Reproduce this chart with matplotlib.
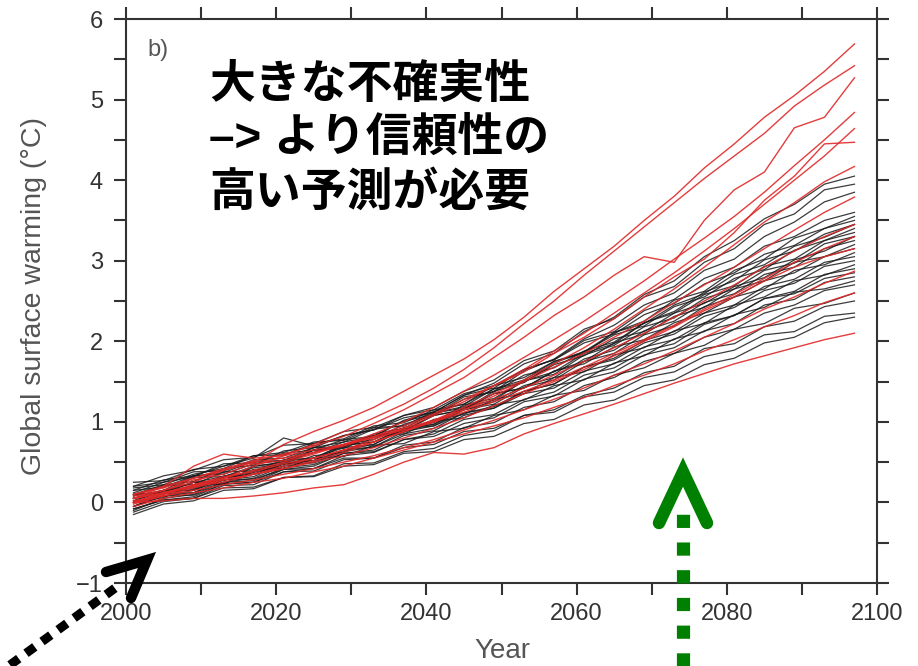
import matplotlib
matplotlib.use("Agg")
import matplotlib.pyplot as plt
from matplotlib.lines import Line2D
from matplotlib.ticker import MultipleLocator

# ---- data ----
years = [2001, 2005, 2009, 2013, 2017, 2021, 2025, 2029, 2033, 2037, 2041, 2045, 2049,
         2053, 2057, 2061, 2065, 2069, 2073, 2077, 2081, 2085, 2089, 2093, 2097]

# multi-model ensemble (black)
black_runs = [
    [0.02, 0.14, 0.25, 0.22, 0.45, 0.50, 0.62, 0.75, 0.82, 1.02, 1.12, 1.33, 1.48, 1.72, 1.85, 2.12, 2.30, 2.58, 2.75, 3.05, 3.25, 3.52, 3.70, 3.95, 4.05],
    [0.10, 0.22, 0.26, 0.42, 0.46, 0.64, 0.68, 0.83, 0.90, 1.08, 1.18, 1.38, 1.52, 1.76, 1.88, 2.15, 2.28, 2.55, 2.68, 2.98, 3.15, 3.45, 3.58, 3.88, 3.95],
    [-0.05, 0.08, 0.15, 0.30, 0.38, 0.48, 0.55, 0.72, 0.78, 0.97, 1.08, 1.28, 1.38, 1.63, 1.78, 2.03, 2.20, 2.45, 2.60, 2.88, 3.02, 3.30, 3.48, 3.73, 3.85],
    [0.15, 0.28, 0.33, 0.45, 0.55, 0.80, 0.70, 0.83, 0.90, 1.05, 1.12, 1.33, 1.42, 1.65, 1.77, 2.01, 2.12, 2.38, 2.52, 2.78, 2.92, 3.18, 3.30, 3.50, 3.60],
    [0.00, 0.06, 0.22, 0.23, 0.38, 0.45, 0.58, 0.62, 0.81, 0.89, 1.08, 1.15, 1.38, 1.49, 1.73, 1.87, 2.11, 2.25, 2.51, 2.62, 2.88, 3.02, 3.28, 3.40, 3.55],
    [0.20, 0.33, 0.40, 0.53, 0.56, 0.71, 0.73, 0.88, 0.93, 1.08, 1.15, 1.35, 1.45, 1.65, 1.77, 1.98, 2.09, 2.33, 2.47, 2.71, 2.85, 3.08, 3.19, 3.40, 3.50],
    [0.05, 0.12, 0.25, 0.32, 0.43, 0.47, 0.65, 0.69, 0.85, 0.92, 1.11, 1.19, 1.41, 1.52, 1.75, 1.85, 2.11, 2.22, 2.45, 2.59, 2.83, 2.95, 3.18, 3.29, 3.45],
    [-0.10, 0.05, 0.10, 0.25, 0.30, 0.45, 0.50, 0.65, 0.72, 0.91, 0.97, 1.18, 1.27, 1.51, 1.62, 1.85, 1.97, 2.23, 2.37, 2.61, 2.75, 3.01, 3.12, 3.33, 3.45],
    [0.08, 0.15, 0.33, 0.35, 0.48, 0.52, 0.68, 0.75, 0.91, 0.95, 1.13, 1.22, 1.45, 1.55, 1.75, 1.87, 2.08, 2.19, 2.43, 2.55, 2.78, 2.89, 3.13, 3.25, 3.40],
    [0.12, 0.25, 0.32, 0.48, 0.49, 0.61, 0.65, 0.78, 0.82, 1.01, 1.09, 1.31, 1.37, 1.58, 1.67, 1.88, 1.99, 2.23, 2.35, 2.58, 2.69, 2.93, 3.02, 3.25, 3.35],
    [0.00, 0.12, 0.16, 0.31, 0.35, 0.48, 0.52, 0.71, 0.75, 0.93, 0.99, 1.21, 1.29, 1.51, 1.59, 1.83, 1.95, 2.18, 2.29, 2.53, 2.65, 2.88, 2.97, 3.21, 3.30],
    [0.18, 0.22, 0.35, 0.42, 0.58, 0.59, 0.73, 0.79, 0.95, 0.99, 1.15, 1.22, 1.41, 1.49, 1.71, 1.82, 2.03, 2.12, 2.35, 2.47, 2.68, 2.79, 3.01, 3.12, 3.30],
    [-0.05, 0.11, 0.12, 0.28, 0.32, 0.48, 0.49, 0.63, 0.69, 0.88, 0.95, 1.15, 1.25, 1.45, 1.55, 1.78, 1.89, 2.13, 2.25, 2.48, 2.59, 2.83, 2.92, 3.15, 3.25],
    [0.10, 0.12, 0.31, 0.32, 0.45, 0.49, 0.65, 0.67, 0.83, 0.89, 1.08, 1.15, 1.35, 1.42, 1.63, 1.75, 1.98, 2.09, 2.31, 2.42, 2.65, 2.75, 2.98, 3.05, 3.20],
    [0.05, 0.15, 0.17, 0.33, 0.37, 0.51, 0.55, 0.68, 0.72, 0.91, 0.97, 1.15, 1.22, 1.43, 1.52, 1.75, 1.85, 2.08, 2.19, 2.43, 2.55, 2.75, 2.85, 3.05, 3.15],
    [0.25, 0.27, 0.41, 0.45, 0.58, 0.62, 0.75, 0.77, 0.93, 0.95, 1.11, 1.17, 1.35, 1.42, 1.63, 1.72, 1.93, 2.02, 2.23, 2.35, 2.55, 2.65, 2.88, 2.95, 3.10],
    [-0.08, 0.03, 0.07, 0.23, 0.25, 0.41, 0.45, 0.61, 0.65, 0.83, 0.89, 1.08, 1.17, 1.38, 1.47, 1.68, 1.79, 2.01, 2.12, 2.35, 2.45, 2.68, 2.77, 2.98, 3.05],
    [0.02, 0.15, 0.19, 0.31, 0.35, 0.48, 0.52, 0.65, 0.69, 0.85, 0.92, 1.11, 1.19, 1.38, 1.47, 1.68, 1.77, 1.98, 2.09, 2.31, 2.42, 2.63, 2.72, 2.93, 3.00],
    [0.15, 0.19, 0.33, 0.37, 0.51, 0.52, 0.65, 0.69, 0.83, 0.87, 1.03, 1.09, 1.28, 1.35, 1.55, 1.62, 1.83, 1.92, 2.13, 2.22, 2.45, 2.55, 2.75, 2.82, 2.95],
    [-0.12, 0.01, 0.05, 0.21, 0.22, 0.38, 0.42, 0.58, 0.62, 0.78, 0.85, 1.03, 1.09, 1.28, 1.37, 1.58, 1.67, 1.88, 1.97, 2.21, 2.32, 2.53, 2.62, 2.83, 2.90],
    [0.08, 0.21, 0.22, 0.38, 0.39, 0.53, 0.55, 0.71, 0.75, 0.91, 0.95, 1.11, 1.17, 1.35, 1.42, 1.63, 1.72, 1.93, 2.02, 2.23, 2.32, 2.53, 2.59, 2.78, 2.85],
    [0.00, 0.08, 0.12, 0.25, 0.27, 0.43, 0.47, 0.61, 0.63, 0.78, 0.82, 0.98, 1.05, 1.25, 1.32, 1.53, 1.62, 1.83, 1.92, 2.13, 2.22, 2.45, 2.52, 2.73, 2.80],
    [0.20, 0.25, 0.38, 0.39, 0.53, 0.55, 0.68, 0.69, 0.83, 0.85, 1.01, 1.05, 1.21, 1.27, 1.45, 1.52, 1.73, 1.82, 2.03, 2.12, 2.33, 2.42, 2.61, 2.65, 2.75],
    [-0.05, 0.08, 0.09, 0.23, 0.25, 0.38, 0.39, 0.53, 0.55, 0.71, 0.75, 0.93, 0.99, 1.18, 1.25, 1.45, 1.55, 1.75, 1.85, 2.05, 2.15, 2.35, 2.45, 2.63, 2.70],
    [0.10, 0.12, 0.25, 0.27, 0.41, 0.42, 0.55, 0.57, 0.71, 0.73, 0.88, 0.92, 1.08, 1.15, 1.33, 1.39, 1.58, 1.67, 1.85, 1.95, 2.15, 2.22, 2.41, 2.47, 2.60],
    [-0.15, -0.02, 0.02, 0.15, 0.17, 0.31, 0.33, 0.48, 0.49, 0.63, 0.67, 0.83, 0.89, 1.08, 1.15, 1.33, 1.42, 1.61, 1.69, 1.91, 1.97, 2.18, 2.25, 2.43, 2.50],
    [0.05, 0.15, 0.15, 0.28, 0.29, 0.41, 0.42, 0.55, 0.55, 0.68, 0.72, 0.88, 0.92, 1.08, 1.12, 1.31, 1.37, 1.55, 1.62, 1.81, 1.89, 2.08, 2.12, 2.31, 2.35],
    [-0.08, 0.03, 0.05, 0.18, 0.19, 0.31, 0.32, 0.45, 0.47, 0.61, 0.63, 0.78, 0.82, 0.98, 1.03, 1.21, 1.27, 1.45, 1.52, 1.71, 1.79, 1.98, 2.05, 2.23, 2.30],
]

# perturbed-physics ensemble (red)
red_runs = [
    [0.05, 0.15, 0.25, 0.40, 0.50, 0.72, 0.88, 1.02, 1.18, 1.38, 1.58, 1.78, 2.02, 2.30, 2.62, 2.90, 3.18, 3.50, 3.80, 4.15, 4.45, 4.78, 5.05, 5.35, 5.69],
    [0.00, 0.10, 0.22, 0.30, 0.45, 0.58, 0.72, 0.88, 1.05, 1.22, 1.42, 1.65, 1.92, 2.22, 2.50, 2.82, 3.12, 3.42, 3.72, 4.02, 4.30, 4.58, 4.92, 5.18, 5.42],
    [0.10, 0.18, 0.30, 0.42, 0.52, 0.60, 0.70, 0.82, 0.98, 1.15, 1.35, 1.55, 1.80, 2.05, 2.32, 2.55, 2.82, 3.05, 2.98, 3.50, 3.88, 4.10, 4.65, 4.78, 5.27],
    [0.05, 0.12, 0.20, 0.30, 0.40, 0.50, 0.60, 0.72, 0.85, 1.00, 1.18, 1.38, 1.58, 1.80, 2.02, 2.25, 2.50, 2.75, 3.02, 3.28, 3.55, 3.85, 4.18, 4.50, 4.84],
    [-0.02, 0.08, 0.18, 0.28, 0.35, 0.45, 0.55, 0.65, 0.78, 0.92, 1.08, 1.25, 1.45, 1.65, 1.88, 2.10, 2.35, 2.60, 2.85, 3.12, 3.40, 3.70, 4.00, 4.30, 4.64],
    [0.08, 0.15, 0.28, 0.35, 0.48, 0.52, 0.62, 0.70, 0.82, 0.95, 1.10, 1.28, 1.45, 1.62, 1.85, 2.05, 2.28, 2.55, 2.80, 3.02, 3.35, 3.75, 4.05, 4.45, 4.47],
    [0.02, 0.10, 0.20, 0.25, 0.35, 0.42, 0.52, 0.62, 0.75, 0.88, 1.02, 1.18, 1.35, 1.52, 1.72, 1.92, 2.15, 2.40, 2.65, 2.92, 3.20, 3.48, 3.72, 3.98, 4.17],
    [0.00, 0.12, 0.22, 0.32, 0.38, 0.48, 0.55, 0.65, 0.75, 0.88, 1.00, 1.15, 1.32, 1.50, 1.68, 1.85, 2.05, 2.25, 2.48, 2.70, 2.92, 3.15, 3.38, 3.60, 3.79],
    [0.10, 0.20, 0.30, 0.40, 0.50, 0.55, 0.62, 0.72, 0.82, 0.92, 1.02, 1.15, 1.28, 1.42, 1.58, 1.75, 1.92, 2.10, 2.30, 2.50, 2.70, 2.92, 3.12, 3.30, 3.45],
    [0.05, 0.12, 0.20, 0.28, 0.35, 0.42, 0.50, 0.58, 0.68, 0.80, 0.92, 1.05, 1.20, 1.35, 1.50, 1.65, 1.82, 2.00, 2.18, 2.38, 2.55, 2.75, 2.92, 3.05, 3.15],
    [0.00, 0.08, 0.15, 0.22, 0.28, 0.35, 0.42, 0.50, 0.58, 0.68, 0.78, 0.90, 1.02, 1.15, 1.28, 1.42, 1.58, 1.72, 1.88, 2.05, 2.22, 2.40, 2.55, 2.72, 2.87],
    [0.00, 0.02, 0.05, 0.05, 0.08, 0.12, 0.18, 0.22, 0.35, 0.50, 0.62, 0.60, 0.68, 0.85, 0.98, 1.10, 1.22, 1.35, 1.48, 1.60, 1.72, 1.82, 1.92, 2.02, 2.10],
    [0.05, 0.20, 0.45, 0.60, 0.55, 0.58, 0.65, 0.72, 0.80, 0.90, 1.00, 1.12, 1.25, 1.38, 1.52, 1.68, 1.85, 2.02, 2.20, 2.40, 2.58, 2.78, 2.98, 3.15, 3.30],
    [-0.05, 0.05, 0.12, 0.18, 0.25, 0.30, 0.38, 0.45, 0.55, 0.65, 0.75, 0.85, 0.95, 1.05, 1.18, 1.30, 1.45, 1.58, 1.72, 1.88, 2.02, 2.18, 2.32, 2.48, 2.60],
]

note_lines = ["大きな不確実性", "–> より信頼性の", "高い予測が必要"]
x_ticks = [2000, 2020, 2040, 2060, 2080, 2100]
y_ticks = [-1, 0, 1, 2, 3, 4, 5, 6]

W, H = 918, 666


def fx(px):
    return px / W


def fy(py):
    return 1 - py / H


def main():
    fig = plt.figure(figsize=(9.18, 6.66), dpi=100)
    ax = fig.add_axes([fx(126), fy(583), fx(877) - fx(126), fy(19) - fy(583)])

    for run in black_runs:
        ax.plot(years, run, color="#1a1a1a", lw=0.9, alpha=0.85)
    for run in red_runs:
        ax.plot(years, run, color="#e02828", lw=1.0, alpha=0.9)

    ax.set_xlim(2000, 2100)
    ax.set_ylim(-1, 6)
    ax.set_xticks(x_ticks)
    ax.set_yticks(y_ticks)
    ax.xaxis.set_minor_locator(MultipleLocator(10))
    ax.yaxis.set_minor_locator(MultipleLocator(0.5))

    tick_font = "Liberation Sans"
    ax.tick_params(which="both", direction="out", top=True, right=True,
                   length=8.5, width=1.5, color="#333333")
    ax.tick_params(axis="x", pad=6, labelsize=17, labelcolor="#333333")
    ax.tick_params(axis="y", pad=8, labelsize=17, labelcolor="#333333")
    ax.set_yticklabels(["\u22121" if v == -1 else str(v) for v in y_ticks])
    for lab in ax.get_xticklabels() + ax.get_yticklabels():
        lab.set_family(tick_font)
    for sp in ax.spines.values():
        sp.set_linewidth(1.5)
        sp.set_color("#333333")

    fig.text(fx(34), fy(296), "Global surface warming (°C)", rotation=90,
             ha="center", va="center", fontsize=20.5, color="#555555", family=tick_font)
    fig.text(fx(502), fy(651), "Year", ha="center", va="center",
             fontsize=20, color="#555555", family=tick_font)
    ax.text(0.028, 0.945, "b)", transform=ax.transAxes, ha="left", va="center",
            fontsize=17, color="#555555", family=tick_font)

    # Japanese note
    for line, ypx in zip(note_lines, [86, 139, 194]):
        fig.text(fx(209), fy(ypx), line, ha="left", va="center", fontsize=33,
                 fontweight="bold", color="black",
                 family=["Liberation Sans", "Noto Sans CJK JP"])

    # black dotted arrow (bottom-left)
    fig.add_artist(Line2D([fx(10), fx(122)], [fy(665), fy(583)], transform=fig.transFigure,
                          color="black", lw=6.5, linestyle=(0, (1.2, 1.0)),
                          solid_capstyle="butt", dash_capstyle="butt"))
    fig.add_artist(Line2D([fx(106), fx(147), fx(131)], [fy(572), fy(560), fy(598)],
                          transform=fig.transFigure, color="black", lw=7.5,
                          solid_capstyle="round", solid_joinstyle="miter"))

    # green dotted arrow
    fig.add_artist(Line2D([fx(683), fx(683)], [fy(666), fy(505)], transform=fig.transFigure,
                          color="#008000", lw=9.5, linestyle=(0, (1.0, 1.1)),
                          dash_capstyle="butt"))
    fig.add_artist(Line2D([fx(659), fx(683), fx(707)], [fy(523), fy(472), fy(523)],
                          transform=fig.transFigure, color="#008000", lw=9.0,
                          solid_capstyle="round", solid_joinstyle="miter"))

    fig.savefig("out.png", dpi=100)
    plt.close(fig)


if __name__ == "__main__":
    main()
